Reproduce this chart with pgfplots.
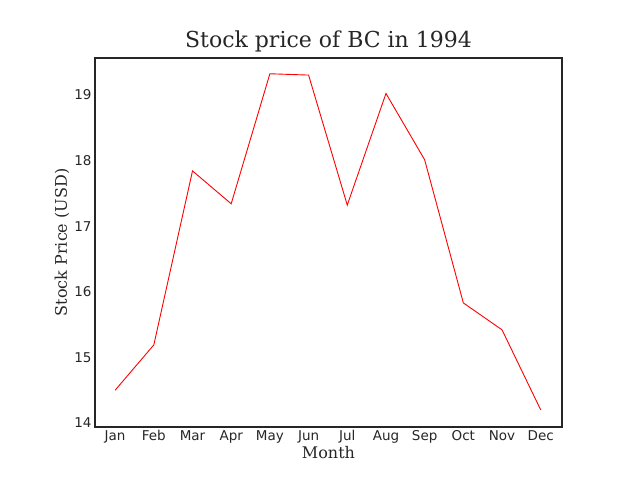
\documentclass[border=0pt]{standalone}
\usepackage{fontspec}
\setmainfont{DejaVu Serif}
\newfontfamily\ticksans{DejaVu Sans}
\usepackage{pgfplots}
\pgfplotsset{compat=1.18}
\definecolor{txt}{HTML}{262626}
\begin{document}
\begin{tikzpicture}[x=1pt,y=1pt]
\path[use as bounding box] (0,0) rectangle (640,480);
\begin{axis}[at={(95pt,53pt)},anchor=south west,scale only axis,
  width=467pt,height=369pt,
  xmin=-0.52,xmax=11.55,ymin=13.94,ymax=19.56,
  xtick={0,...,11},
  xticklabels={Jan,Feb,Mar,Apr,May,Jun,Jul,Aug,Sep,Oct,Nov,Dec},
  ytick={14,15,16,17,18,19},
  major tick length=0pt,
  axis line style={txt,line width=1.2pt},
  tick label style={font=\ticksans\fontsize{13.5}{16}\selectfont,text=txt},
  /pgf/number format/assume math mode=true,
  xlabel={Month},ylabel={Stock Price (USD)},
  label style={font=\fontsize{16}{19}\selectfont,text=txt},
  title={Stock price of BC in 1994},
  title style={font=\fontsize{22}{26}\selectfont,text=txt,yshift=-4pt},
  xlabel style={yshift=4pt},
  ylabel style={yshift=-2pt},
]
\addplot[red,line width=0.9pt,mark=none] coordinates {
(0,14.50)(1,15.19)(2,17.84)(3,17.34)(4,19.32)(5,19.30)
(6,17.32)(7,19.02)(8,18.01)(9,15.83)(10,15.42)(11,14.20)};
\end{axis}
\end{tikzpicture}
\end{document}
